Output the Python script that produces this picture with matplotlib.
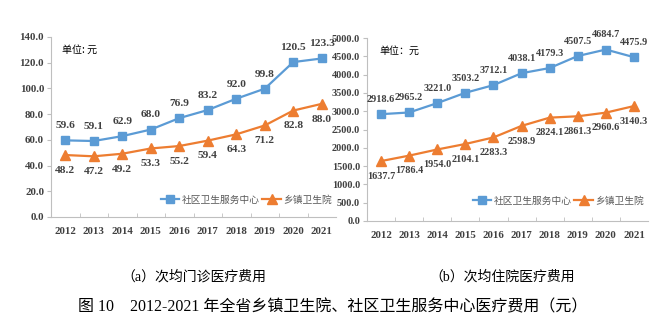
import matplotlib
matplotlib.use("Agg")
import matplotlib.pyplot as plt

years = ["2012", "2013", "2014", "2015", "2016", "2017", "2018", "2019", "2020", "2021"]
outpatient_community = [59.6, 59.1, 62.9, 68.0, 76.9, 83.2, 92.0, 99.8, 120.5, 123.3]
outpatient_township = [48.2, 47.2, 49.2, 53.3, 55.2, 59.4, 64.3, 71.2, 82.8, 88.0]
inpatient_community = [2918.6, 2965.2, 3221.0, 3503.2, 3712.1, 4038.1, 4179.3, 4507.5, 4684.7, 4475.9]
inpatient_township = [1637.7, 1786.4, 1954.0, 2104.1, 2283.3, 2598.9, 2824.1, 2861.3, 2960.6, 3140.3]
series_names = ["社区卫生服务中心", "乡镇卫生院"]

BLUE = "#5B9BD5"
ORANGE = "#ED7D31"
TXT = "#404040"
SPINE = "#BFBFBF"
NUM = ["Liberation Serif", "DejaVu Serif"]
CJK = ["Noto Sans CJK SC", "DejaVu Sans"]
MIX = ["Liberation Serif", "Noto Sans CJK SC", "DejaVu Sans"]

fig = plt.figure(figsize=(6.62, 3.34), dpi=100)
W, H = 662, 334


def add_ax(x0, x1, ytop, ybot):
    return fig.add_axes([x0 / W, 1 - ybot / H, (x1 - x0) / W, (ybot - ytop) / H])


def draw(ax, comm, town, ymax, ystep, unit, unit_x, leg_anchor, lab_fs, tick_fs):
    x = list(range(len(years)))
    ax.plot(x, comm, color=BLUE, lw=1.6, marker="s", ms=6, label=series_names[0])
    ax.plot(x, town, color=ORANGE, lw=1.6, marker="^", ms=6.5, label=series_names[1])
    for xi, v in zip(x, comm):
        ax.annotate(f"{v:.1f}", (xi, v), xytext=(0, 10.5), textcoords="offset points",
                    ha="center", va="center", fontsize=lab_fs, fontweight="bold",
                    color=TXT, family=NUM)
    for xi, v in zip(x, town):
        ax.annotate(f"{v:.1f}", (xi, v), xytext=(0, -11), textcoords="offset points",
                    ha="center", va="center", fontsize=lab_fs, fontweight="bold",
                    color=TXT, family=NUM)
    ax.set_xlim(-0.5, len(years) - 0.5)
    ax.set_ylim(0, ymax)
    yt = [i * ystep for i in range(int(round(ymax / ystep)) + 1)]
    ax.set_yticks(yt)
    ax.set_yticklabels([f"{v:.1f}" for v in yt], fontsize=tick_fs, fontweight="bold",
                       color=TXT, family=NUM)
    ax.set_xticks(x)
    ax.set_xticklabels(years, fontsize=7.8, fontweight="bold", color=TXT, family=NUM)
    ax.set_xticks([i - 0.5 for i in range(1, len(years))], minor=True)
    ax.tick_params(axis="x", which="major", length=0, pad=7)
    ax.tick_params(axis="x", which="minor", length=3, direction="in", color=SPINE)
    ax.tick_params(axis="y", length=3, color=SPINE, pad=2)
    for s in ["top", "right"]:
        ax.spines[s].set_visible(False)
    for s in ["left", "bottom"]:
        ax.spines[s].set_color(SPINE)
        ax.spines[s].set_linewidth(0.8)
    ax.text(unit_x, 0.93, unit, transform=ax.transAxes, fontsize=7.2, color="black",
            family=CJK, ha="left", va="center")
    leg = ax.legend(loc="center right", bbox_to_anchor=leg_anchor, ncol=2, frameon=False,
                    prop={"family": CJK, "size": 7}, handlelength=1.9,
                    handletextpad=0.25, columnspacing=0.3, borderaxespad=0)
    for t in leg.get_texts():
        t.set_color("#595959")


ax1 = add_ax(51, 336, 37, 217)
draw(ax1, outpatient_community, outpatient_township, 140, 20, "单位: 元", 0.04, (1.0, 0.095), 8.2, 7.8)
ax2 = add_ax(367, 648, 38, 221)
draw(ax2, inpatient_community, inpatient_township, 5000, 500, "单位：元", 0.045, (1.0, 0.11), 7.4, 7.4)

fig.text(194 / W, 1 - 277 / H, "（a）次均门诊医疗费用", fontsize=10, family=MIX,
         ha="center", va="center", color="black")
fig.text(502 / W, 1 - 277 / H, "（b）次均住院医疗费用", fontsize=10, family=MIX,
         ha="center", va="center", color="black")
fig.text(333 / W, 1 - 307 / H, "图 10    2012-2021 年全省乡镇卫生院、社区卫生服务中心医疗费用（元）",
         fontsize=11.5, family=MIX, ha="center", va="center", color="black")

fig.savefig("out.png", dpi=100)
